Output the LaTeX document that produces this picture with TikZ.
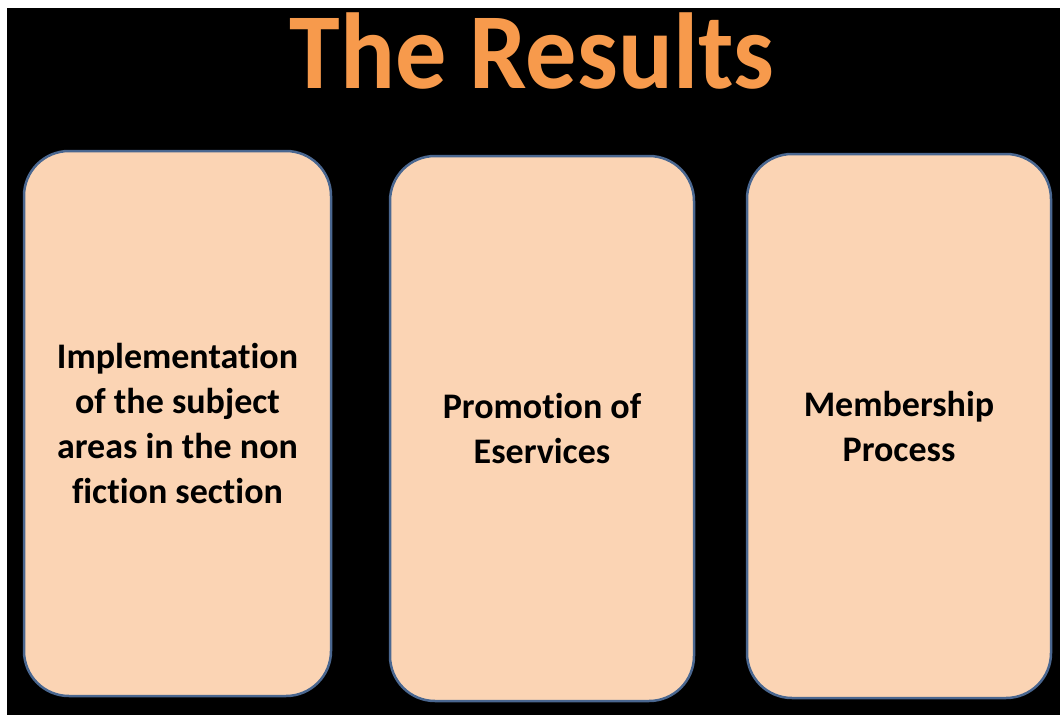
\documentclass[tikz,border=0pt]{standalone}
\usepackage{fontspec}
\setmainfont{Carlito}[Ligatures=NoCommon]
\definecolor{perzik}{HTML}{FBD4B4}
\definecolor{rand}{HTML}{4A6790}
\definecolor{titel}{HTML}{F79A4C}
\begin{document}
\begin{tikzpicture}[x=1pt,y=-1pt,
  vak/.style={draw=rand,line width=2.5pt,fill=perzik,rounded corners=45pt,inner sep=0pt,align=center,
    font=\bfseries\fontsize{36}{45}\selectfont}]
\useasboundingbox (0,0) rectangle (1060,715);
\fill[white] (0,0) rectangle (1060,715);
\fill[black] (7,8) rectangle (1060,715);

\node[text=titel,anchor=base,xscale=0.947,transform shape,font=\bfseries\fontsize{108}{108}\selectfont] (titel) at (532,88) {The Results};

\node[vak,minimum width=307pt,minimum height=545pt] (r1) at (177.5,423.5) {Implementation\\of the subject\\areas in the non\\fiction section};
\node[vak,minimum width=304pt,minimum height=545pt] (r2) at (542,428.5) {Promotion of\\Eservices};
\node[vak,minimum width=304pt,minimum height=544pt] (r3) at (899,426) {Membership\\Process};
\end{tikzpicture}
\end{document}
